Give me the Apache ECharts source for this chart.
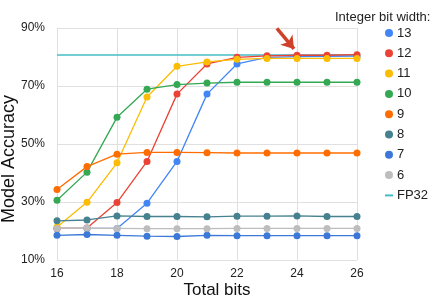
<!DOCTYPE html>
<html><head><meta charset="utf-8">
<script src="https://cdn.jsdelivr.net/npm/echarts@6/dist/echarts.min.js"></script>
<style>html,body{margin:0;padding:0;background:#fff}#c{width:432px;height:299px}</style>
</head><body><div id="c"></div>
<script>
const totalBits = [16,17,18,19,20,21,22,23,24,25,26];
const yTicks = ['10%','30%','50%','70%','90%'];
const seriesNames = ['13','12','11','10','9','8','7','6'];
const int13 = [20.9,20.9,20.9,29.6,44.0,67.2,77.6,79.9,80.1,80.2,80.3];
const int12 = [20.9,21.0,29.8,44.0,67.2,77.6,79.9,80.4,80.6,80.6,80.8];
const int11 = [21.4,29.9,43.5,66.2,76.8,78.3,79.2,79.5,79.5,79.5,79.5];
const int10 = [30.6,40.3,59.2,68.9,70.5,71.0,71.3,71.3,71.3,71.3,71.3];
const int9  = [34.3,42.2,46.5,47.1,47.1,47.0,46.9,46.9,46.9,46.9,46.9];
const int8  = [23.5,23.8,25.2,25.0,25.0,24.9,25.1,25.1,25.2,25.0,25.0];
const int7  = [18.5,18.8,18.5,18.2,18.1,18.5,18.4,18.4,18.4,18.4,18.4];
const int6  = [20.9,21.0,20.9,20.8,20.8,20.8,20.9,20.9,20.9,20.9,20.9];
const fp32  = [80.7,80.7,80.7,80.7,80.7,80.7,80.7,80.7,80.7,80.7,80.7];
const seriesValues = [int13,int12,int11,int10,int9,int8,int7,int6];
const colors = ['#4285f4','#ea4335','#fbbc04','#34a853','#ff6d01','#45818e','#3c78d8','#bdbdbd'];
const arrowStart = [23.33, 89.9];
const arrowEnd = [23.9, 82.8];
const xTitle = 'Total bits';
const yTitle = 'Model Accuracy';

const chart = echarts.init(document.getElementById('c'), null, {renderer:'canvas'});
const font = 'Liberation Sans, Arial, sans-serif';
const series = [{
  name:'FP32', type:'line', z:1,
  data: totalBits.map((x,i)=>[x,fp32[i]]),
  symbol:'none', lineStyle:{color:'#46bdc6', width:1.5}, itemStyle:{color:'#46bdc6'},
  silent:true
}];
seriesNames.forEach((n,k)=>{
  const s = {
    name:n, type:'line', z:2+k,
    data: totalBits.map((x,i)=>[x,seriesValues[k][i]]),
    symbol:'circle', symbolSize:7, showSymbol:true,
    lineStyle:{color:colors[k], width:1.3},
    itemStyle:{color:colors[k]},
    silent:true
  };
  if (n==='12') {
    s.markLine = {
      silent:true, symbol:['none','arrow'], symbolSize:[12,12],
      label:{show:false},
      lineStyle:{color:'#d0412a', width:3.5, type:'solid'},
      data:[[{coord:arrowStart},{coord:arrowEnd}]]
    };
  }
  series.push(s);
});
const legendData = seriesNames.map(n=>({name:n, icon:'circle'}));
legendData.push({name:'FP32', icon:'path://M0,3H8V5H0Z', itemStyle:{color:'#46bdc6'}});
chart.setOption({
  animation:false,
  textStyle:{fontFamily:font},
  title:{text:'Integer bit width:', left:330, top:6,
    textStyle:{fontSize:13, fontWeight:'normal', color:'#222', fontFamily:font}},
  legend:{orient:'vertical', left:380, top:21, itemWidth:8, itemHeight:8, itemGap:6.3,
    data:legendData, selectedMode:false,
    textStyle:{fontSize:13, color:'#222', lineHeight:14, padding:[0,0,0,-1], fontFamily:font}},
  grid:{left:57, right:75, top:28, bottom:39, containLabel:false, outerBoundsMode:'none'},
  graphic:[
    {type:'text', x:217, y:290, silent:true,
      style:{text:xTitle, font:'17px '+font, fill:'#111', align:'center', verticalAlign:'middle'}},
    {type:'text', x:9.5, y:159, rotation:Math.PI/2, silent:true,
      style:{text:yTitle, font:'18px '+font, fill:'#111', align:'center', verticalAlign:'middle'}}
  ],
  xAxis:{type:'value', min:16, max:26, interval:2,
    axisLine:{show:false}, axisTick:{show:false},
    axisLabel:{fontSize:12, color:'#222', margin:8, fontFamily:font},
    splitLine:{show:true, lineStyle:{color:'#e0e0e0', width:1}}},
  yAxis:{type:'value', min:10, max:90, interval:20,
    axisLine:{show:false}, axisTick:{show:false},
    axisLabel:{fontSize:12, color:'#222', margin:12, fontFamily:font,
      formatter:v=>yTicks[Math.round((v-10)/20)]},
    splitLine:{show:true, lineStyle:{color:'#e0e0e0', width:1}}},
  series:series
});
</script></body></html>
